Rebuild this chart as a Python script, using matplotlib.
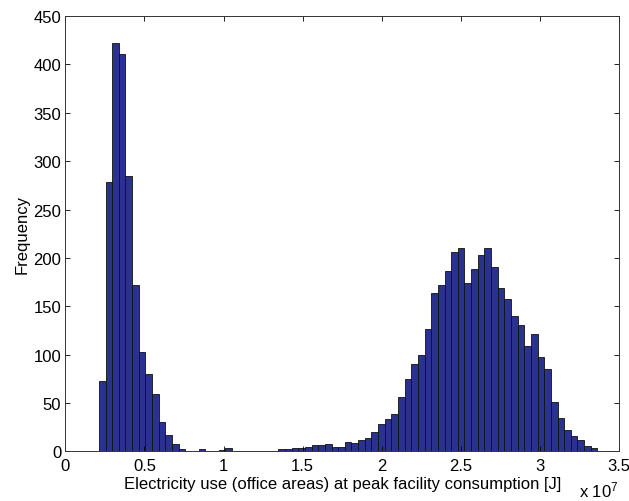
import matplotlib
matplotlib.use("Agg")
import matplotlib.pyplot as plt
import numpy as np

plt.rcParams['font.family'] = ['Liberation Sans', 'DejaVu Sans']
plt.rcParams['mathtext.default'] = 'regular'

# histogram: 75 equal bins between x_min and x_max (units of 1e7 J)
x_min = 0.2116
x_max = 3.364
n_bins = 75
counts = [
    73, 278, 422, 411, 285, 172, 103, 80, 59, 30,
    17, 8, 2, 0, 0, 2, 0, 0, 1, 3,
    0, 0, 0, 0, 0, 0, 0, 2, 2, 3,
    3, 4, 6, 7, 8, 4, 4, 10, 9, 12,
    14, 20, 28, 33, 39, 56, 75, 90, 100, 126,
    164, 172, 186, 206, 210, 174, 188, 203, 210, 191,
    169, 157, 140, 131, 109, 121, 97, 85, 51, 34,
    22, 16, 12, 5, 3,
]
x_ticks = [0, 0.5, 1, 1.5, 2, 2.5, 3, 3.5]
y_ticks = [0, 50, 100, 150, 200, 250, 300, 350, 400, 450]

edges = np.linspace(x_min, x_max, n_bins + 1)

fig = plt.figure(figsize=(6.29, 5.02), dpi=100)
ax = fig.add_axes([0.104, 0.099, 0.880, 0.867])

ax.bar(edges[:-1], counts, width=np.diff(edges), align='edge',
       color='#2a3290', edgecolor='#111111', linewidth=0.6)

ax.set_xlim(0, 3.5)
ax.set_ylim(0, 450)
ax.set_xticks(x_ticks)
ax.set_xticklabels(['0', '0.5', '1', '1.5', '2', '2.5', '3', '3.5'])
ax.set_yticks(y_ticks)
ax.tick_params(direction='in', length=3.5, width=0.6, labelsize=12,
               top=True, right=True)
ax.tick_params(axis='x', pad=5)
ax.tick_params(axis='y', pad=3)
for s in ax.spines.values():
    s.set_linewidth(0.7)
    s.set_color('#333333')

ax.set_xlabel('Electricity use (office areas) at peak facility consumption [J]',
              fontsize=12, labelpad=2)
ax.set_ylabel('Frequency', fontsize=12, labelpad=3)
fig.text(0.921, 0.004, 'x 10$^{7}$', fontsize=12, ha='left', va='bottom')

fig.savefig('out.png', dpi=100, facecolor='white')
